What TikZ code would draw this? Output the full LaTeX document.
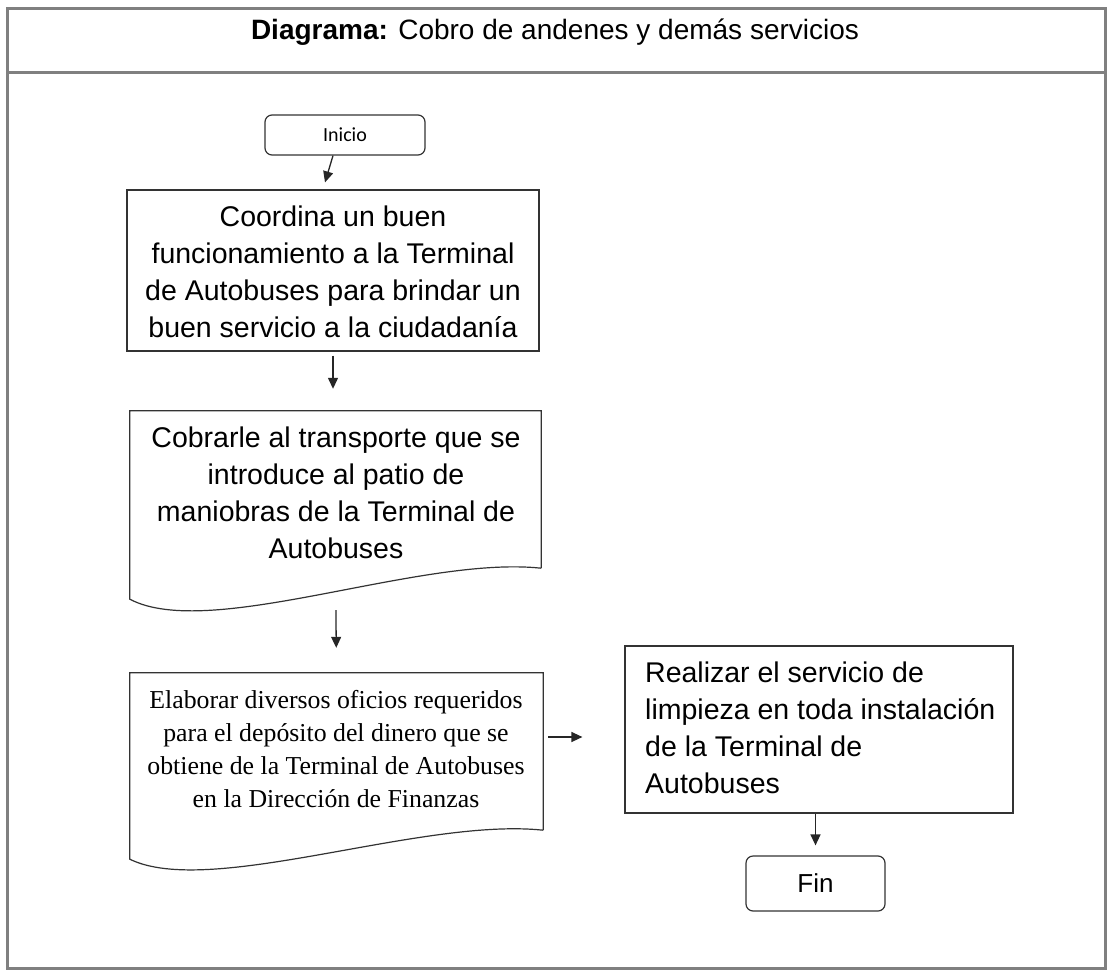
\documentclass[tikz,border=0pt]{standalone}
\usepackage{fontspec}
\setmainfont{Liberation Sans}
\newfontfamily\timesf{Liberation Serif}
\newfontfamily\calf{Carlito}
\usetikzlibrary{arrows.meta,calc}
\begin{document}
\begin{tikzpicture}[x=1pt,y=-1pt,
  frame/.style={draw=black!50,line width=3pt},
  box/.style={draw=black!80,line width=1.2pt},
  txt/.style={inner sep=0pt,font=\fontsize{28.5}{37}\selectfont},
  term/.style={draw=black!80,line width=1.2pt,rounded corners=7pt},
  arr/.style={draw=black!85,line width=1.3pt,-{Triangle[length=11pt,width=10pt]}}]
\useasboundingbox (0,0) rectangle (1110,979);
% frame
\draw[frame] (7,9) rectangle (1105,968);
\draw[frame] (7,73) -- (1105,73);
\node[inner sep=0pt,font=\fontsize{28}{32}\selectfont] (title) at (555,32) {\textbf{Diagrama:} Cobro de andenes y demás servicios};
% Inicio
\node[term,minimum width=160pt,minimum height=40pt,font=\calf\fontsize{20}{24}\selectfont] (ini) at (345,135) {Inicio};
% box1
\node[box,minimum width=412pt,minimum height=161pt] (b1) at (333,270.5) {};
\node[txt,align=center] (t1) at (333,272) {Coordina un buen\\funcionamiento a la Terminal\\de Autobuses para brindar un\\buen servicio a la ciudadanía};
% box2 (document)
\node[minimum width=411pt,minimum height=157pt,inner sep=0pt] (b2) at (335.5,489.5) {};
\draw[box] (b2.south east) -- (b2.north east) -- (b2.north west) -- ($(b2.south west)+(0,31)$)
  .. controls ($(b2.south west)+(80,73)$) and ($(b2.south east)+(-122,-13)$) .. (b2.south east);
\node[txt,align=center] (t2) at (336,493) {Cobrarle al transporte que se\\introduce al patio de\\maniobras de la Terminal de\\Autobuses};
% box3 (document)
\node[minimum width=413pt,minimum height=157pt,inner sep=0pt] (b3) at (336.5,751.5) {};
\draw[box] (b3.south east) -- (b3.north east) -- (b3.north west) -- ($(b3.south west)+(0,29)$)
  .. controls ($(b3.south west)+(80,68)$) and ($(b3.south east)+(-122,-13)$) .. (b3.south east);
\node[inner sep=0pt,align=center,font=\timesf\fontsize{25.8}{33}\selectfont] (t3) at (336,749) {Elaborar diversos oficios requeridos\\para el depósito del dinero que se\\obtiene de la Terminal de Autobuses\\en la Dirección de Finanzas};
% box4
\node[box,minimum width=388pt,minimum height=167pt] (b4) at (819,729.5) {};
\node[txt,align=left,anchor=west] (t4) at (645,728) {Realizar el servicio de\\limpieza en toda instalación\\de la Terminal de\\Autobuses};
% Fin
\node[term,minimum width=139pt,minimum height=55pt,font=\fontsize{26}{30}\selectfont] (fin) at (815.5,883.5) {Fin};
% arrows
\draw[arr] ($(ini.south)+(-12,0)$) -- ($(b1.north)+(-8,-7)$);
\draw[arr,shorten <=4pt,shorten >=22pt] (b1.south) -- (b2.north -| b1.south);
\draw[arr,shorten <=42pt,shorten >=25pt] (b2.south) -- (b3.north);
\draw[arr,shorten <=5pt,shorten >=42pt] ($(b3.east)+(0,-14.5)$) -- ($(b4.west)+(0,7.5)$);
\draw[arr,shorten >=10pt] (b4.south -| fin.north) -- (fin.north);
\end{tikzpicture}
\end{document}
